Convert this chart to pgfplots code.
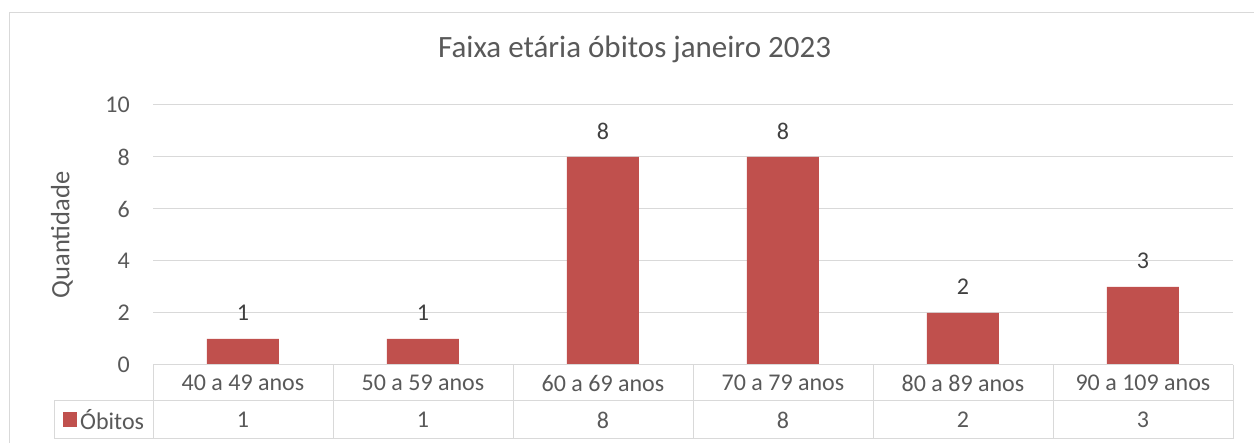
\documentclass[border=0pt]{standalone}
\usepackage{pgfplots}
\pgfplotsset{compat=1.18}
\usepackage{fontspec}
\setmainfont{Carlito}
\definecolor{barred}{HTML}{C0504D}
\definecolor{txtgray}{HTML}{595959}
\definecolor{lblgray}{HTML}{404040}
\definecolor{gridgray}{HTML}{D9D9D9}
\newcommand{\lblfont}{\fontsize{24bp}{28bp}\selectfont}
\begin{document}
\begin{tikzpicture}
\path[use as bounding box] (0,0) rectangle (1254bp,443bp);
% outer chart frame (cropped at right and bottom)
\draw[gridgray, line width=1bp] (9bp,0bp) -- (9bp,430bp) -- (1254bp,430bp);
\begin{axis}[
  at={(153bp,78bp)}, anchor=south west,
  scale only axis, width=1080bp, height=260bp,
  xmin=-0.5, xmax=5.5, ymin=0, ymax=10,
  ytick={0,2,4,6,8,10},
  xtick={0,1,2,3,4,5},
  xticklabels={40 a 49 anos,50 a 59 anos,60 a 69 anos,70 a 79 anos,80 a 89 anos,90 a 109 anos},
  ymajorgrids, grid style={gridgray, line width=1bp},
  axis line style={draw=none},
  major tick length=0pt,
  tick style={draw=none},
  clip=false,
  /pgf/number format/assume math mode=true,
  ticklabel style={font=\lblfont, text=txtgray},
  yticklabel style={anchor=east, inner sep=0pt, xshift=-23bp},
  xticklabel style={anchor=center, inner sep=0pt, yshift=-18bp},
  title={Faixa etária óbitos janeiro 2023},
  title style={font=\fontsize{31bp}{36bp}\selectfont, text=txtgray, at={(axis description cs:0.446,1.192)}, anchor=center},
  ylabel={Quantidade},
  every axis y label/.style={at={(axis description cs:-0.0843,0.5)}, rotate=90, anchor=center, font=\fontsize{26.5bp}{30bp}\selectfont, text=txtgray},
]
\addplot[ybar, bar width=72bp, fill=barred, draw=none,
  nodes near coords, nodes near coords align={center},
  every node near coord/.append style={font=\lblfont, text=lblgray, yshift=26bp}]
  coordinates {(0,1) (1,1) (2,8) (3,8) (4,2) (5,3)};
% data table value row
\addplot[draw=none, mark=none, point meta=explicit,
  nodes near coords, nodes near coords align={center},
  every node near coord/.append style={font=\lblfont, text=txtgray}]
  coordinates {(0,-2.115)[1] (1,-2.115)[1] (2,-2.115)[8] (3,-2.115)[8] (4,-2.115)[2] (5,-2.115)[3]};
\end{axis}
% data table grid
\begin{scope}[gridgray, line width=1bp]
\draw (153bp,78bp) -- (1233bp,78bp);
\draw (54bp,42bp) -- (1233bp,42bp);
\draw (54bp,4bp) -- (1233bp,4bp);
\draw (54bp,42bp) -- (54bp,4bp);
\foreach \k in {0,...,6} {\draw ({(153+180*\k)*1bp},78bp) -- ({(153+180*\k)*1bp},4bp);}
\end{scope}
% legend key in the table
\fill[barred] (63bp,16bp) rectangle (77bp,31bp);
\node[anchor=west, inner sep=0pt, font=\lblfont, text=txtgray] at (80bp,23bp) {Óbitos};
\end{tikzpicture}
\end{document}
